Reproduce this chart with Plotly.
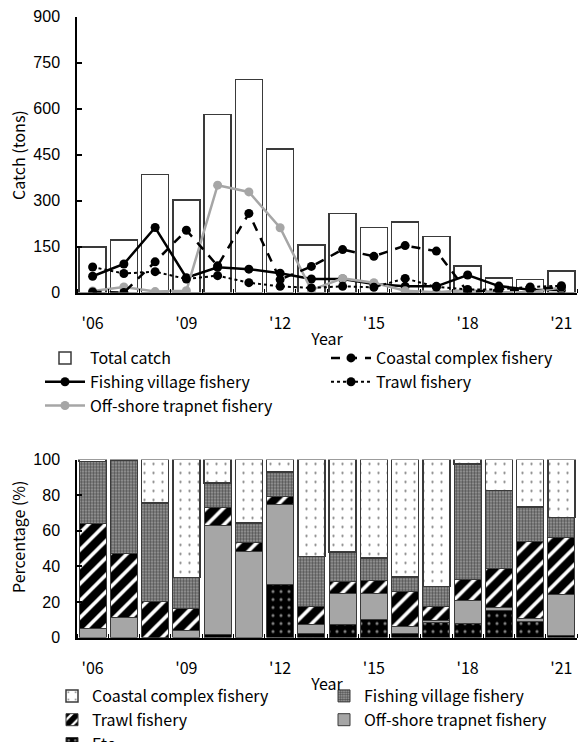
import plotly.graph_objects as go

# ---- data -------------------------------------------------------------
years = list(range(2006, 2022))
tick_years = [2006, 2009, 2012, 2015, 2018, 2021]
tick_labels = ["'06", "'09", "'12", "'15", "'18", "'21"]

# catch by fishery (tons)
total_catch = [148, 172, 385, 302, 580, 695, 468, 155, 258, 212, 230, 182, 86, 48, 43, 70]
coastal_catch = [2, 0, 100, 203, 87, 258, 42, 85, 140, 118, 153, 135, 2, 8, 10, 18]
village_catch = [53, 93, 212, 48, 82, 76, 63, 44, 44, 28, 20, 20, 57, 21, 9, 8]
trawl_catch = [83, 62, 68, 44, 55, 32, 20, 15, 20, 17, 46, 18, 10, 10, 18, 22]
offshore_catch = [5, 18, 3, 6, 350, 328, 211, 8, 46, 32, 6, 1, 8, 1, 1, 16]

# share of catch by fishery (%)
etc_pct = [0, 0, 0, 0, 1.5, 0, 30, 2.5, 7.5, 9.9, 2, 8.4, 7.9, 15, 9, 1]
offshore_pct = [5, 11.5, 0, 3.7, 61.3, 48.4, 44.5, 4.8, 17.1, 15, 4, 1, 12.7, 1.9, 1.9, 23]
trawl_pct = [59, 35.5, 20, 12.6, 10, 4.7, 4.9, 10.2, 6.7, 7, 20, 8, 12.2, 21.9, 42.9, 32.4]
village_pct = [35, 52.5, 55.5, 17.5, 13.9, 11.1, 13.5, 28.1, 16.6, 12.9, 8, 11.3, 64.6, 43.7, 19.4, 10.9]
coastal_pct = [1, 0.5, 24.5, 66.2, 13.3, 35.8, 7.1, 54.4, 52.1, 55.2, 66, 71.3, 2.6, 17.5, 26.8, 32.7]

# ---- page geometry (pixels) -------------------------------------------
W, H = 578, 742
TXT = "Noto Sans CJK KR"
NUM = "Liberation Sans"
FS = 16


def px_x(p):
    return p / W


def px_y(p):
    return 1 - p / H


fig = go.Figure()

# ---- top panel: catch in tons ------------------------------------------
fig.add_trace(go.Bar(
    x=years, y=total_catch, name="Total catch",
    marker=dict(color="white", line=dict(color="#3a3a3a", width=1.5)),
    xaxis="x", yaxis="y", legend="legend",
))
fig.add_trace(go.Scatter(
    x=years, y=village_catch, name="Fishing village fishery", mode="lines+markers",
    line=dict(color="black", width=2.5), marker=dict(color="black", size=9),
    xaxis="x", yaxis="y", legend="legend",
))
fig.add_trace(go.Scatter(
    x=years, y=offshore_catch, name="Off-shore trapnet fishery", mode="lines+markers",
    line=dict(color="#a6a6a6", width=2.5), marker=dict(color="#a6a6a6", size=9),
    xaxis="x", yaxis="y", legend="legend",
))
fig.add_trace(go.Scatter(
    x=years, y=coastal_catch, name="Coastal complex fishery", mode="lines+markers",
    line=dict(color="black", width=2.5, dash="9px,8px"), marker=dict(color="black", size=9),
    xaxis="x", yaxis="y", legend="legend2",
))
fig.add_trace(go.Scatter(
    x=years, y=trawl_catch, name="Trawl fishery", mode="lines+markers",
    line=dict(color="black", width=2, dash="dot"), marker=dict(color="black", size=9),
    xaxis="x", yaxis="y", legend="legend2",
))

# ---- bottom panel: percentage stack ------------------------------------
seg_line = dict(color="#3a3a3a", width=1)
fig.add_trace(go.Bar(
    x=years, y=etc_pct, name="Etc",
    marker=dict(color="black", line=seg_line,
                pattern=dict(shape=".", fgcolor="white", bgcolor="black", size=8, solidity=0.12)),
    xaxis="x2", yaxis="y2", legend="legend3",
))
fig.add_trace(go.Bar(
    x=years, y=offshore_pct, name="Off-shore trapnet fishery",
    marker=dict(color="#a6a6a6", line=seg_line),
    xaxis="x2", yaxis="y2", legend="legend4",
))
fig.add_trace(go.Bar(
    x=years, y=trawl_pct, name="Trawl fishery",
    marker=dict(color="white", line=seg_line,
                pattern=dict(shape="/", fgcolor="black", bgcolor="white", size=12,
                             solidity=0.7, fgopacity=1)),
    xaxis="x2", yaxis="y2", legend="legend3",
))
fig.add_trace(go.Bar(
    x=years, y=village_pct, name="Fishing village fishery",
    marker=dict(color="#8a8a8a", line=seg_line,
                pattern=dict(shape=".", fgcolor="black", bgcolor="#a4a4a4", size=3, solidity=0.55)),
    xaxis="x2", yaxis="y2", legend="legend4",
))
fig.add_trace(go.Bar(
    x=years, y=coastal_pct, name="Coastal complex fishery",
    marker=dict(color="white", line=dict(color="#3a3a3a", width=1.5),
                pattern=dict(shape=".", fgcolor="black", bgcolor="white", size=9, solidity=0.05)),
    xaxis="x2", yaxis="y2", legend="legend3",
))

# ---- axes --------------------------------------------------------------
x_dom = [px_x(77), px_x(577)]
common_x = dict(
    range=[2005.5, 2021.5], domain=x_dom, showline=True, linecolor="black", linewidth=1.5,
    showgrid=False, zeroline=False, tickmode="array", tickvals=tick_years, ticktext=tick_labels,
    ticks="", ticklabelstandoff=16, tickfont=dict(family=TXT, size=FS, color="black"),
    minor=dict(tickmode="linear", tick0=2005.5, dtick=1, ticks="inside", ticklen=4,
               tickcolor="black", tickwidth=1),
    title=dict(text="Year", font=dict(family=TXT, size=FS, color="black"), standoff=0),
    automargin=False, fixedrange=True,
)
common_y = dict(
    showline=True, linecolor="black", linewidth=1.5, showgrid=False, zeroline=False,
    ticks="inside", ticklen=5, tickcolor="black", tickwidth=1.5,
    tickfont=dict(family=NUM, size=FS, color="black"), ticklabelstandoff=12,
    automargin=False, fixedrange=True,
)


def legend_box(x, y, order, iw):
    return dict(x=px_x(x), y=px_y(y), xanchor="left", yanchor="top",
                traceorder=order, itemwidth=iw, tracegroupgap=0,
                bgcolor="rgba(0,0,0,0)", font=dict(family=TXT, size=FS))


fig.update_layout(
    width=W, height=H, autosize=False,
    # fixed margins: legends must not resize the plot areas
    margin=dict(l=0, r=0, t=0, b=0, pad=0, autoexpand=False),
    paper_bgcolor="white", plot_bgcolor="white",
    barmode="stack", bargap=0.14,
    font=dict(family=TXT, size=FS, color="black"),
    xaxis=dict(common_x, anchor="y"),
    yaxis=dict(common_y, anchor="x", domain=[px_y(292.5), px_y(16.5)],
               range=[0, 900], tickvals=list(range(0, 901, 150))),
    xaxis2=dict(common_x, anchor="y2"),
    yaxis2=dict(common_y, anchor="x2", domain=[px_y(637.5), px_y(459.5)],
                range=[0, 100], tickvals=list(range(0, 101, 20))),
    showlegend=True,
    legend=legend_box(40, 341, "normal", 40),
    legend2=legend_box(326, 341, "normal", 40),
    legend3=legend_box(52, 679, "reversed", 30),
    legend4=legend_box(324, 679, "reversed", 30),
    annotations=[
        dict(text="Catch (tons)", x=px_x(18), y=px_y(155), xref="paper", yref="paper",
             xanchor="center", yanchor="middle", textangle=-90, showarrow=False,
             font=dict(family=TXT, size=FS)),
        dict(text="Percentage (%)", x=px_x(18), y=px_y(537), xref="paper", yref="paper",
             xanchor="center", yanchor="middle", textangle=-90, showarrow=False,
             font=dict(family=TXT, size=FS)),
    ],
)

fig.write_html("out.html", config={"responsive": False})
